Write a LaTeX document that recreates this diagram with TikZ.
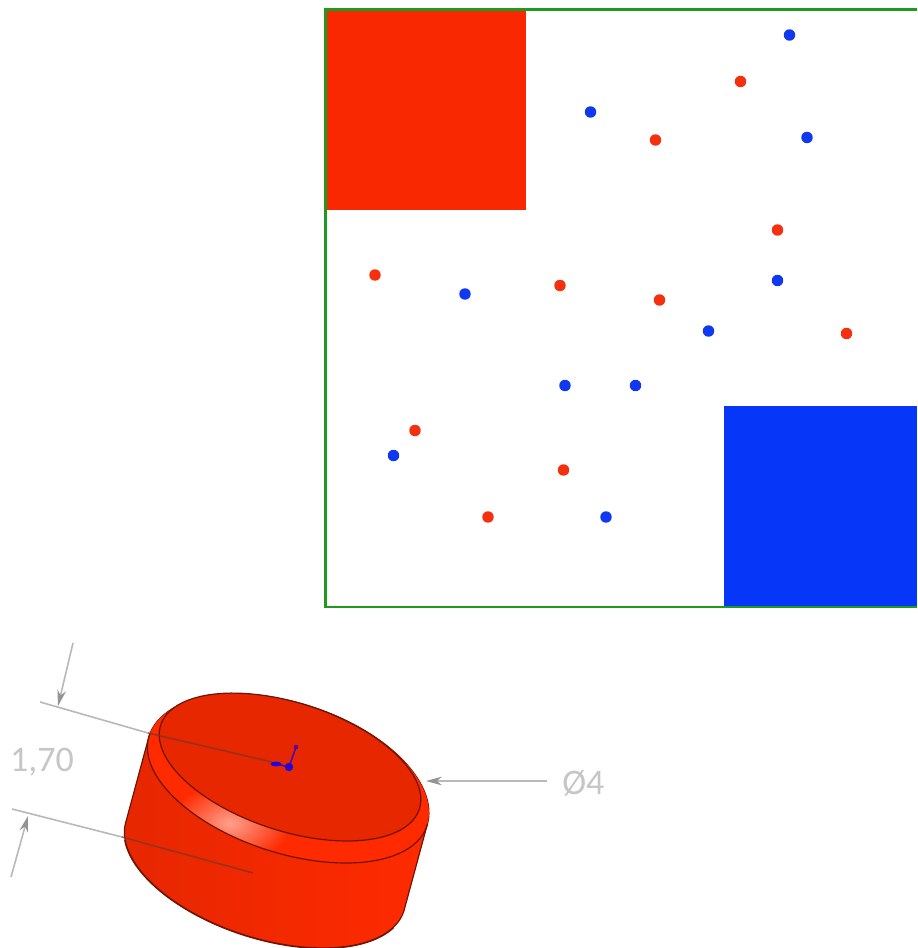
\documentclass[tikz,border=0pt]{standalone}
\usepackage{fontspec}
\setmainfont{Carlito}
\usetikzlibrary{arrows.meta}
\definecolor{fgreen}{HTML}{1E9A1E}
\definecolor{sqred}{HTML}{FA2800}
\definecolor{sqblue}{HTML}{0636F8}
\definecolor{dotred}{HTML}{F5300F}
\definecolor{dotblue}{HTML}{1038F0}
\definecolor{topred}{HTML}{E62700}
\definecolor{ringred}{HTML}{FF2A00}
\definecolor{edgedark}{HTML}{6E1408}
\definecolor{dimgray}{HTML}{B8B8B6}
\definecolor{txtgray}{HTML}{C6C6C6}
\tikzset{
  x=0.75pt,y=-0.75pt,
  reddot/.style={circle,fill=dotred,inner sep=0pt,minimum size=8.6pt,draw=none},
  bluedot/.style={circle,fill=dotblue,inner sep=0pt,minimum size=8.6pt,draw=none},
  dimline/.style={draw=dimgray,line width=1.2pt},
  dimover/.style={draw=black!45!topred!70!gray,line width=1.2pt,opacity=.75},
  dimarrow/.style={draw=dimgray,line width=1.2pt,-{Stealth[length=12pt,width=6.5pt,color=gray!85]}},
  edgeline/.style={draw=edgedark,line width=.9pt},
  dimtext/.style={text=txtgray,font=\fontsize{27}{27}\selectfont,inner sep=0pt},
}
\begin{document}
\begin{tikzpicture}
\useasboundingbox (0,0) rectangle (917,948);
% field
\node[draw=none,fill=sqred,inner sep=0pt,minimum width=149pt,minimum height=149pt,anchor=north west] (redsq) at (327,11) {};
\node[draw=none,fill=sqblue,inner sep=0pt,minimum width=144.75pt,minimum height=150pt,anchor=north west] (bluesq) at (724,406) {};
\draw[fgreen,line width=2.2pt] (917,9.5) -- (325.5,9.5) -- (325.5,607) -- (917,607);
\node[bluedot] (b1) at (789.5,35) {};
\node[reddot] (r1) at (740.5,81.5) {};
\node[bluedot] (b2) at (590.5,112) {};
\node[reddot] (r2) at (655.5,140) {};
\node[bluedot] (b3) at (807,137.5) {};
\node[reddot] (r3) at (777.5,230) {};
\node[reddot] (r4) at (375,275) {};
\node[bluedot] (b4) at (465,294) {};
\node[reddot] (r5) at (560,285.5) {};
\node[reddot] (r6) at (659.5,300) {};
\node[bluedot] (b5) at (777.5,280.5) {};
\node[bluedot] (b6) at (708.5,331) {};
\node[reddot] (r7) at (846.5,333.5) {};
\node[bluedot] (b7) at (565,385.5) {};
\node[bluedot] (b8) at (635.5,385.5) {};
\node[reddot] (r8) at (415,430.5) {};
\node[bluedot] (b9) at (393.5,455.5) {};
\node[reddot] (r9) at (563.5,470) {};
\node[reddot] (r10) at (488,517) {};
\node[bluedot] (b10) at (606,517) {};
% puck, local frame along the ellipse axes
\begin{scope}[shift={(288,781)},rotate=-18]
% body
\draw[edgedark,line width=1.6pt] plot[domain=15:165,samples=60] ({4.4+146*cos(\x)},{87.9+72*sin(\x)});
\path[left color=topred,middle color=topred!96!black,right color=ringred,edgeline]
  plot[domain=180:360,samples=60] ({146*cos(\x)},{78*sin(\x)})
  -- plot[domain=0:180,samples=60] ({4.4+146*cos(\x)},{87.9+72*sin(\x)}) -- cycle;
% ring band
\begin{scope}
\clip plot[domain=0:360,samples=90] ({146*cos(\x)},{(\x<180 ? 72 : 78)*sin(\x)}) -- cycle;
\fill[ringred] (-150,-90) rectangle (150,90);
\shade[inner color=ringred!45!white,outer color=ringred,draw=none] (-42,58) ellipse (58 and 32);
\end{scope}
\draw[edgeline] plot[domain=-2:182,samples=60] ({146*cos(\x)},{72*sin(\x)});
% top face
\path[fill=topred,edgeline] plot[domain=0:360,samples=90] ({-2.4+136*cos(\x)},{-13.9+64*sin(\x)}) -- cycle;
\end{scope}
% dimension lines
\coordinate (d1a) at (40,702);
\coordinate (d1m) at (148,733);
\coordinate (d1b) at (272,762);
\coordinate (d2a) at (12,809);
\coordinate (d2m) at (122,837);
\coordinate (d2b) at (253,873);
\coordinate (a1s) at (73,643);
\coordinate (a1e) at (58,706);
\coordinate (a2s) at (11,877);
\coordinate (a2e) at (28,816);
\coordinate (a3s) at (547,781);
\coordinate (a3e) at (426,781);
\draw[dimline] (d1a) -- (d1m);
\draw[dimover] (d1m) -- (d1b);
\draw[dimline] (d2a) -- (d2m);
\draw[dimover] (d2m) -- (d2b);
\draw[dimarrow] (a1s) -- (a1e);
\draw[dimarrow] (a2s) -- (a2e);
\draw[dimarrow] (a3s) -- (a3e);
% triad
\coordinate (t0) at (289,767);
\coordinate (t1) at (296,747);
\coordinate (t2) at (272,763);
\draw[blue!80!red,line width=1pt] (t0) -- (t1);
\draw[blue!80!red,line width=1pt] (t0) -- (t2);
\fill[blue!85!red] (t0) circle (4.2);
\fill[blue!70!red] (t1) circle (2.2);
\fill[blue!85!red] (276,764) ellipse (5.5 and 2.5);
\node[dimtext,anchor=east] (t170) at (74,762) {1,70};
\node[dimtext,anchor=west] (t4) at (562,783) {Ø4};
\end{tikzpicture}
\end{document}
